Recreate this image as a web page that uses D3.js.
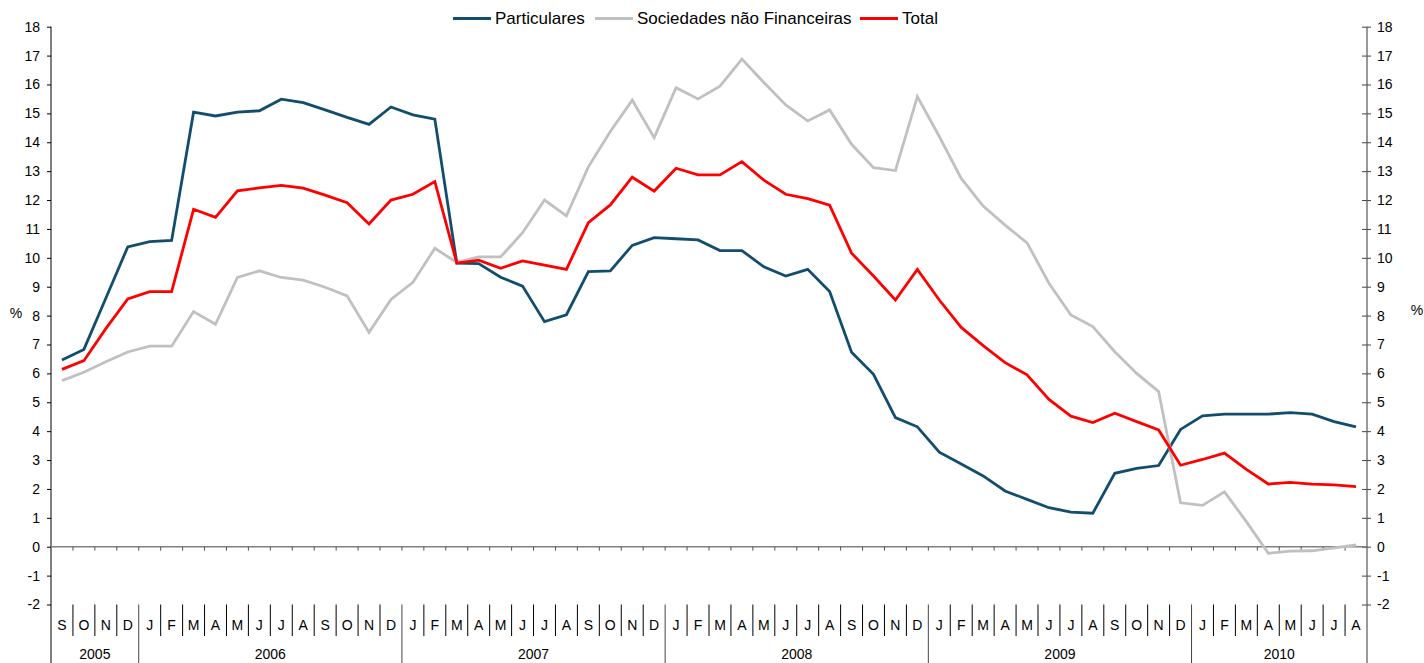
<!DOCTYPE html>
<html>
<head>
<meta charset="utf-8">
<script src="https://cdn.jsdelivr.net/npm/d3@7"></script>
<style>
  html, body { margin: 0; padding: 0; background: #fff; }
  svg { display: block; font-family: "Liberation Sans", Arial, sans-serif; }
</style>
</head>
<body>
<svg id="chart" width="1424" height="663"></svg>
<script>
// Monthly series, Sep 2005 – Aug 2010 (%)
const monthLabels = [
  "S","O","N","D",
  "J","F","M","A","M","J","J","A","S","O","N","D",
  "J","F","M","A","M","J","J","A","S","O","N","D",
  "J","F","M","A","M","J","J","A","S","O","N","D",
  "J","F","M","A","M","J","J","A","S","O","N","D",
  "J","F","M","A","M","J","J","A"
];
const years = ["2005", "2006", "2007", "2008", "2009", "2010"];
const monthsPerYear = [4, 12, 12, 12, 12, 8];

const particulares = [
  6.46, 6.83, 8.6, 10.38, 10.56, 10.6, 15.04, 14.91, 15.04, 15.09,
  15.49, 15.37, 15.12, 14.86, 14.62, 15.22, 14.95, 14.80, 9.82, 9.80,
  9.33, 9.02, 7.79, 8.03, 9.52, 9.55, 10.43, 10.70, 10.66, 10.62,
  10.25, 10.25, 9.69, 9.37, 9.60, 8.83, 6.73, 5.97, 4.47, 4.15,
  3.27, 2.86, 2.45, 1.93, 1.64, 1.35, 1.20, 1.16, 2.54, 2.71,
  2.81, 4.06, 4.53, 4.59, 4.59, 4.59, 4.64, 4.59, 4.33, 4.15
];
const sociedades = [
  5.75, 6.04, 6.4, 6.74, 6.94, 6.94, 8.14, 7.70, 9.32, 9.55,
  9.32, 9.23, 8.98, 8.68, 7.42, 8.56, 9.15, 10.33, 9.84, 10.03,
  10.03, 10.87, 12.0, 11.45, 13.15, 14.37, 15.46, 14.16, 15.89, 15.50,
  15.94, 16.88, 16.07, 15.29, 14.74, 15.12, 13.93, 13.12, 13.02, 15.58,
  14.2, 12.75, 11.79, 11.13, 10.52, 9.12, 8.02, 7.62, 6.75, 6.00,
  5.37, 1.52, 1.43, 1.90, 0.87, -0.23, -0.15, -0.14, -0.04, 0.06
];
const total = [
  6.14, 6.44, 7.55, 8.58, 8.83, 8.83, 11.68, 11.40, 12.32, 12.42,
  12.51, 12.41, 12.17, 11.91, 11.17, 12.0, 12.2, 12.64, 9.82, 9.92,
  9.64, 9.89, 9.75, 9.60, 11.22, 11.83, 12.79, 12.31, 13.10, 12.87,
  12.87, 13.33, 12.69, 12.20, 12.05, 11.82, 10.16, 9.37, 8.54, 9.60,
  8.54, 7.59, 6.96, 6.37, 5.95, 5.10, 4.52, 4.30, 4.62, 4.33,
  4.04, 2.82, 3.02, 3.24, 2.68, 2.17, 2.23, 2.17, 2.14, 2.08
];
const yTicks = [-2, -1, 0, 1, 2, 3, 4, 5, 6, 7, 8, 9, 10, 11, 12, 13, 14, 15, 16, 17, 18];

const seriesNames = ["Particulares", "Sociedades não Financeiras", "Total"];
const seriesColors = ["#124D6D", "#C0C0C0", "#FF0000"];
const seriesValues = [particulares, sociedades, total];

const W = 1424, H = 663;
const plotLeft = 51, plotRight = 1367, plotTop = 26.7, plotBottom = 604.5;

const svg = d3.select("#chart");
const idx = d3.range(monthLabels.length);

const xBand = d3.scaleBand().domain(idx).range([plotLeft, plotRight]).padding(0);
const xc = i => xBand(i) + xBand.bandwidth() / 2;
const y = d3.scaleLinear().domain([-2, 18]).range([plotBottom, plotTop]);

// Plain hyphen for negatives
const fmt = d => String(d);

// Left axis
const gl = svg.append("g").attr("transform", `translate(${plotLeft},0)`)
  .call(d3.axisLeft(y).tickValues(yTicks).tickFormat(fmt).tickSize(4).tickPadding(7));
gl.select(".domain").remove();
gl.selectAll(".tick line").attr("stroke", "#000");
gl.selectAll(".tick text").attr("font-size", 14).attr("fill", "#000")
  .attr("font-family", "Liberation Sans, Arial, sans-serif");

// Right axis (ticks cross the line)
const gr = svg.append("g").attr("transform", `translate(${plotRight},0)`)
  .call(d3.axisRight(y).tickValues(yTicks).tickFormat(fmt).tickSize(4).tickPadding(6));
gr.select(".domain").remove();
gr.selectAll(".tick line").attr("x1", -5).attr("x2", 4).attr("stroke", "#444");
gr.selectAll(".tick text").attr("font-size", 14).attr("fill", "#000")
  .attr("font-family", "Liberation Sans, Arial, sans-serif");

// Vertical axis lines, running down through the category table
svg.append("line").attr("x1", plotLeft).attr("x2", plotLeft).attr("y1", plotTop).attr("y2", H)
  .attr("stroke", "#000").attr("stroke-width", 1);
svg.append("line").attr("x1", plotRight).attr("x2", plotRight).attr("y1", plotTop).attr("y2", H)
  .attr("stroke", "#555").attr("stroke-width", 1.2);

// Zero line with small month ticks
svg.append("line").attr("x1", plotLeft).attr("x2", plotRight).attr("y1", y(0)).attr("y2", y(0))
  .attr("stroke", "#808080").attr("stroke-width", 1.5);
svg.append("g").selectAll("line").data(idx.slice(1)).join("line")
  .attr("x1", d => xBand(d)).attr("x2", d => xBand(d))
  .attr("y1", y(0)).attr("y2", y(0) + 4)
  .attr("stroke", "#555").attr("stroke-width", 1);

// Month separators and labels
const sepTop = plotBottom, sepBottom = 636;
const yearStarts = [];
monthsPerYear.reduce((acc, n) => { yearStarts.push(acc); return acc + n; }, 0);
const yearBoundary = new Set(yearStarts);

svg.append("g").selectAll("line").data(idx.slice(1)).join("line")
  .attr("x1", d => xBand(d)).attr("x2", d => xBand(d))
  .attr("y1", sepTop).attr("y2", d => yearBoundary.has(d) ? H : sepBottom)
  .attr("stroke", d => yearBoundary.has(d) ? "#444" : "#000").attr("stroke-width", 1);

svg.append("g").selectAll("text").data(idx).join("text")
  .attr("x", d => xc(d)).attr("y", 630)
  .attr("text-anchor", "middle").attr("font-size", 14).attr("fill", "#000")
  .text(d => monthLabels[d]);

svg.append("g").selectAll("text").data(years).join("text")
  .attr("x", (d, i) => (xBand(yearStarts[i]) + xBand(yearStarts[i] + monthsPerYear[i] - 1) + xBand.bandwidth()) / 2)
  .attr("y", 659)
  .attr("text-anchor", "middle").attr("font-size", 14).attr("fill", "#000")
  .text(d => d);

// Unit labels
svg.append("text").attr("x", 16).attr("y", 318).attr("text-anchor", "middle")
  .attr("font-size", 14).text("%");
svg.append("text").attr("x", 1417).attr("y", 315).attr("text-anchor", "middle")
  .attr("font-size", 14).text("%");

// Series lines
const line = d3.line().x((d, i) => xc(i)).y(d => y(d));
seriesValues.forEach((vals, k) => {
  svg.append("path").datum(vals)
    .attr("d", line)
    .attr("fill", "none")
    .attr("stroke", seriesColors[k])
    .attr("stroke-width", 2.8)
    .attr("stroke-linejoin", "miter");
});

// Legend
const legendX = [453, 595, 860];
const lg = svg.append("g");
seriesNames.forEach((name, k) => {
  lg.append("line").attr("x1", legendX[k]).attr("x2", legendX[k] + 38)
    .attr("y1", 18.5).attr("y2", 18.5)
    .attr("stroke", seriesColors[k]).attr("stroke-width", 2.8);
  lg.append("text").attr("x", legendX[k] + 42).attr("y", 23.5)
    .attr("font-size", 17).attr("fill", "#000").text(name);
});
</script>
</body>
</html>
